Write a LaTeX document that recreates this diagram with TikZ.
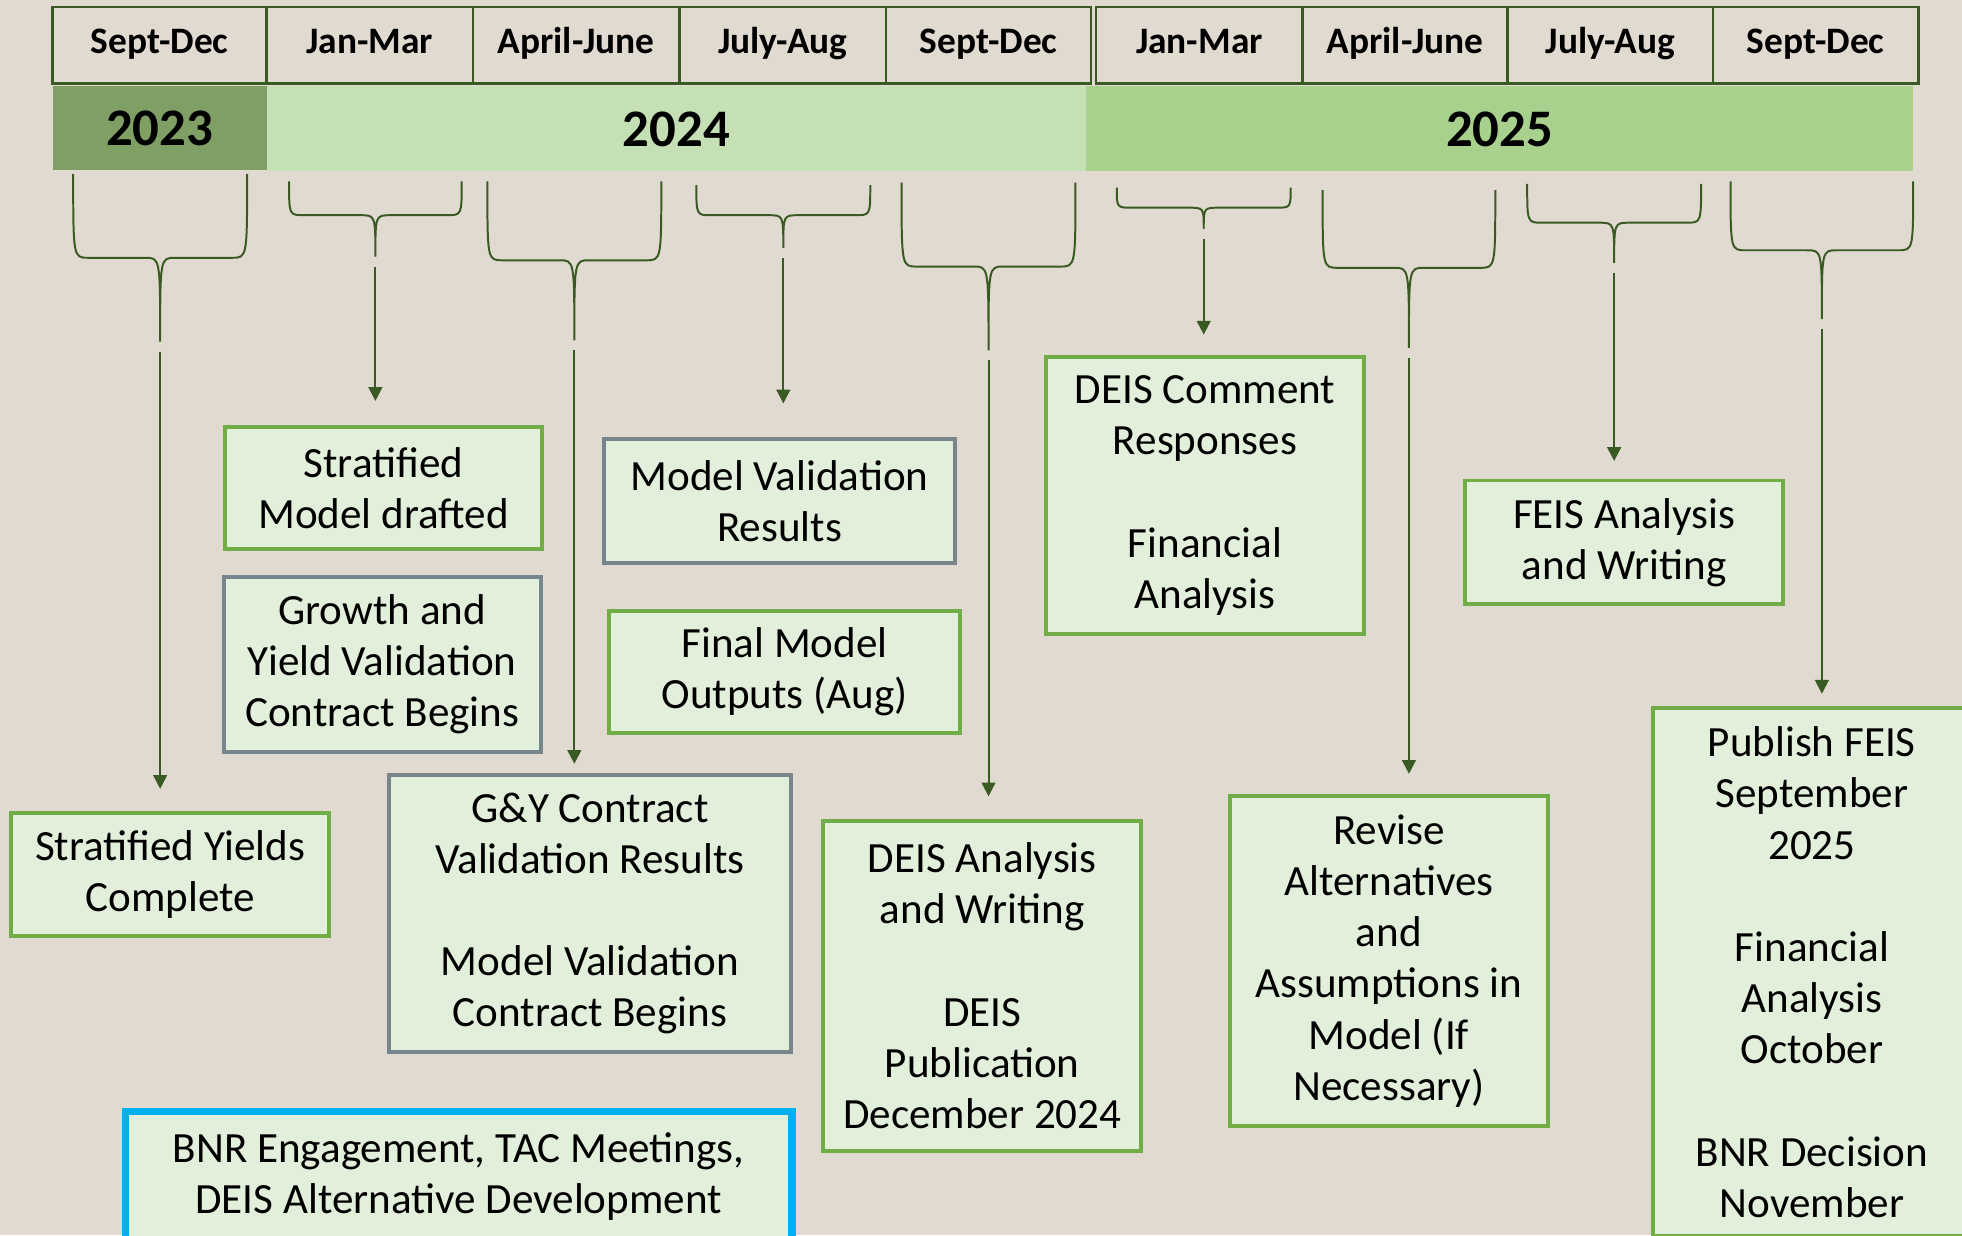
\documentclass[tikz,border=0pt]{standalone}
\usepackage{fontspec}
\setmainfont{Carlito}
\usetikzlibrary{arrows.meta}
\definecolor{paper}{RGB}{224,218,208}
\definecolor{cellfill}{RGB}{226,239,218}
\definecolor{leaf}{RGB}{112,173,71}
\definecolor{slate}{RGB}{118,134,140}
\definecolor{sky}{RGB}{0,176,240}
\definecolor{forest}{RGB}{58,90,36}
\definecolor{yearA}{RGB}{127,159,101}
\definecolor{yearB}{RGB}{197,224,180}
\definecolor{yearC}{RGB}{169,209,142}

\tikzset{
  boxsize/.style 2 args={minimum width=#1*0.02cm, minimum height=#2*0.02cm},
  task/.style={draw=leaf, fill=cellfill, line width=1.8pt, align=center,
    inner sep=0pt, font=\fontsize{19.6}{23.3}\selectfont},
  contract/.style={task, draw=slate},
  outreach/.style={task, draw=sky, line width=3.3pt},
  period/.style={draw=forest, line width=1.2pt, inner sep=0pt,
    text height=12pt, text depth=4pt,
    font=\fontsize{17}{20}\selectfont\bfseries},
  yearband/.style={inner sep=0pt, font=\fontsize{24}{28}\selectfont\bfseries},
  brace/.style={draw=forest, line width=0.9pt},
  link/.style={draw=forest, line width=0.9pt, -{Triangle[length=0.22cm, width=0.22cm]}}
}

\begin{document}
\begin{tikzpicture}[x=0.02cm, y=-0.02cm]
\useasboundingbox (0,0) rectangle (1568,987);
\clip (0,0) rectangle (1568,987);
\fill[paper] (0,0) rectangle (1568,987);

% Period headers
\foreach \cx/\bw/\lbl [count=\i] in {127.5/171/Sept-Dec, 295.5/165/Jan-Mar,
    460.5/165/April-June, 625.5/165/July-Aug, 790/164/Sept-Dec,
    958.5/165/Jan-Mar, 1123/164/April-June, 1287/164/July-Aug, 1451/164/Sept-Dec}
  \node[period, boxsize={\bw}{61}] (p\i) at (\cx,36) {\lbl};

% Year bands
\node[yearband, fill=yearA, boxsize={171}{67}] (y2023) at (127.5,102.5) {2023};
\node[yearband, fill=yearB, boxsize={655}{68}] (y2024) at (540.5,103) {2024};
\node[yearband, fill=yearC, boxsize={661}{68}] (y2025) at (1198.5,103) {2025};

% Milestones
\node[task, boxsize={254}{98}] (sy) at (136,699) {Stratified Yields\\Complete};
\node[task, boxsize={253}{98}] (smd) at (306.5,390) {Stratified\\Model drafted};
\node[contract, boxsize={253}{140}] (gyv) at (305.5,531)
  {Growth and\\Yield Validation\\Contract Begins};
\node[contract, boxsize={321}{222}] (gyr) at (471.5,730)
  {G\&Y Contract\\Validation Results\\[23.3pt]Model Validation\\Contract Begins};
\node[outreach, boxsize={533}{104}] (bnr) at (366.5,940)
  {BNR Engagement, TAC Meetings,\\DEIS Alternative Development};
\node[contract, boxsize={280}{99}] (mvr) at (623,400.5) {Model Validation\\Results};
\node[task, boxsize={280}{98}] (fmo) at (627,537) {Final Model\\Outputs (Aug)};
\node[task, boxsize={254}{264}] (deis) at (785,788)
  {DEIS Analysis\\and Writing\\[23.3pt]DEIS\\Publication\\December 2024};
\node[task, boxsize={254}{222}] (dcr) at (963,396)
  {DEIS Comment\\Responses\\[23.3pt]Financial\\Analysis};
\node[task, boxsize={254}{264}] (rev) at (1110,768)
  {Revise\\Alternatives\\and\\Assumptions in\\Model (If\\Necessary)};
\node[task, boxsize={254}{99}] (feis) at (1298,433.5) {FEIS Analysis\\and Writing};
\node[task, boxsize={254}{422}] (pub) at (1448,777)
  {Publish FEIS\\September\\2025\\[23.3pt]Financial\\Analysis\\October\\[23.3pt]BNR Decision\\November};

% Braces and arrows
\foreach \cx/\hw/\ytop/\ymid/\ytip/\tgt/\gap [count=\i] in {
    128/69.5/139/206/273/sy/18, 300/69/145/172/205/smd/19,
    459/69.5/145/208/272/gyr/7, 626/69.5/148/172/198/mvr/27,
    790/69.5/146/213/280/deis/18, 962/69.5/150/166/183/dcr/16,
    1126/69/152/214/278/rev/16, 1290/69.5/147/178/210/feis/14,
    1456/73/145/200/255/pub/10} {
  \coordinate (tip\i) at (\cx,\ytip);
  \draw[brace] (\cx-\hw,\ytop) .. controls (\cx-\hw,\ymid) .. (\cx-\hw+12,\ymid)
    -- (\cx-12,\ymid) .. controls (\cx,\ymid) .. (tip\i)
    .. controls (\cx,\ymid) .. (\cx+12,\ymid) -- (\cx+\hw-12,\ymid)
    .. controls (\cx+\hw,\ymid) .. (\cx+\hw,\ytop);
  \draw[link, shorten <=8*0.02cm, shorten >=\gap*0.02cm] (tip\i) -- (tip\i |- \tgt.north);
}
\end{tikzpicture}
\end{document}
